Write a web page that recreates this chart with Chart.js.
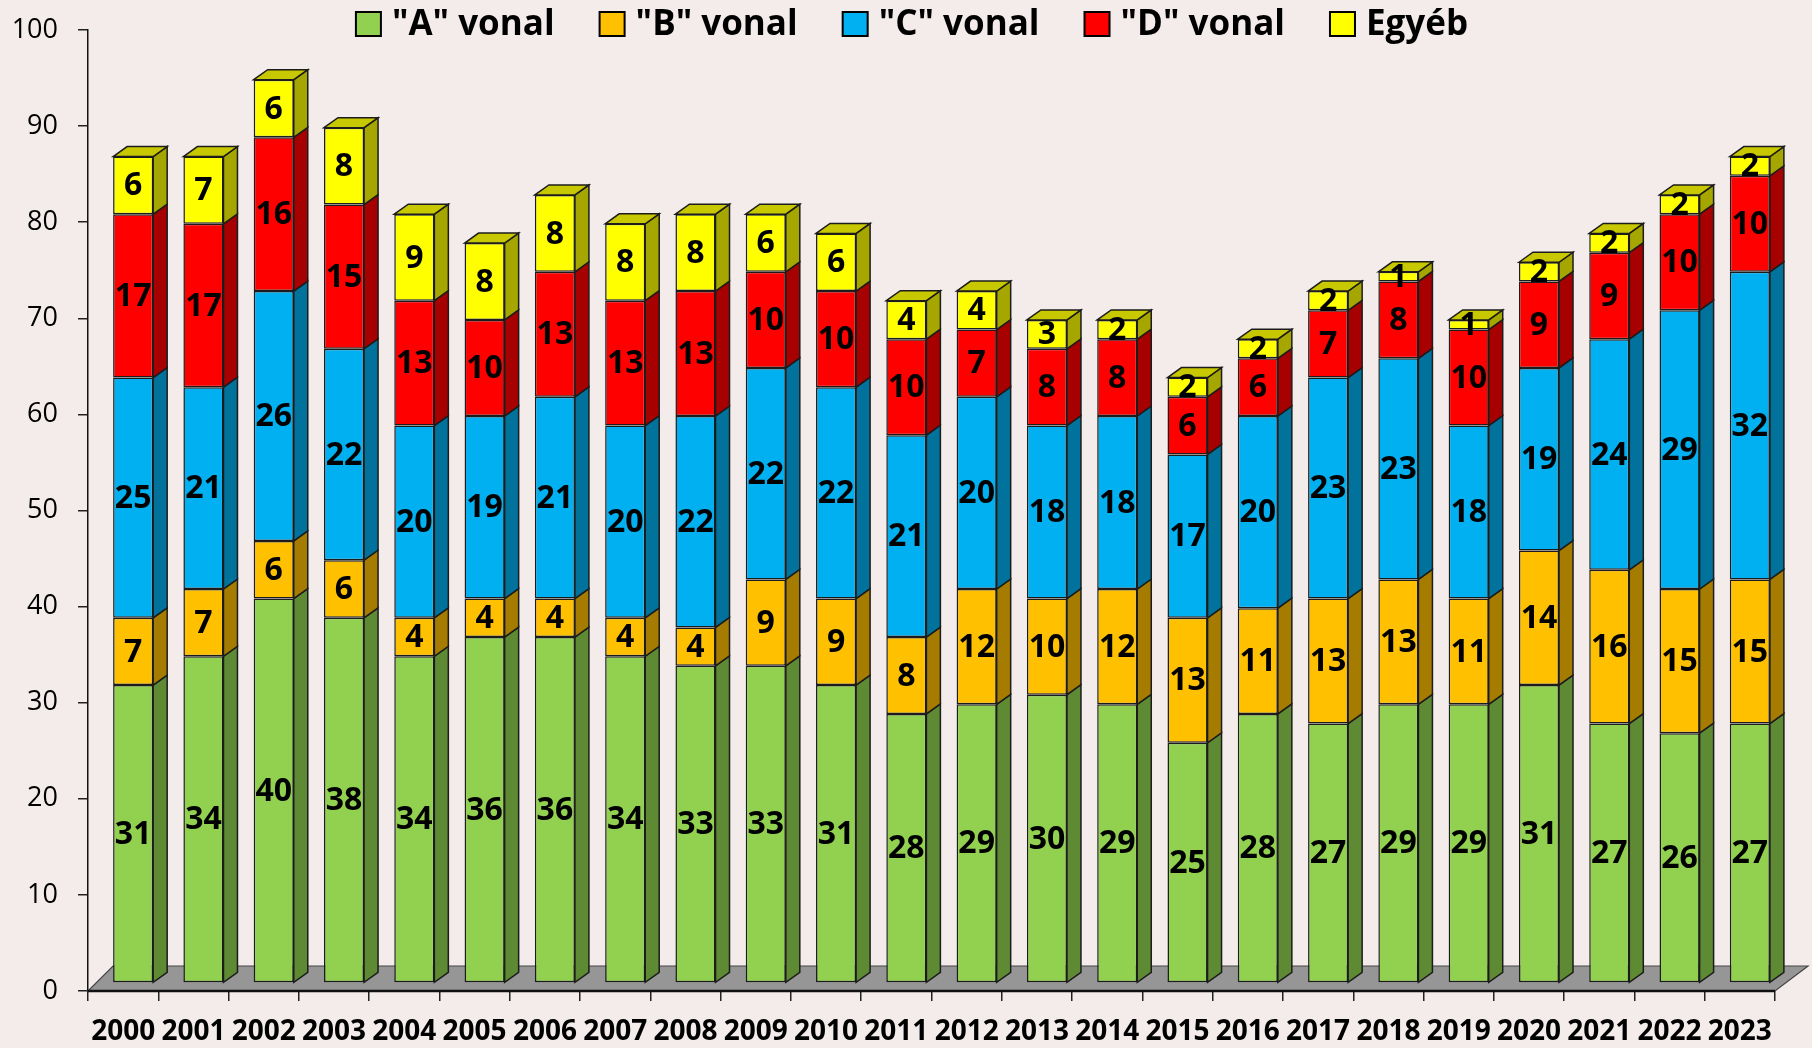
<!DOCTYPE html>
<html>
<head>
<meta charset="utf-8">
<script src="https://cdn.jsdelivr.net/npm/chart.js@4.4.1/dist/chart.umd.min.js"></script>
<style>
html, body { margin: 0; padding: 0; background: #F3ECEB; overflow: hidden; }
#wrap { width: 1812px; height: 1048px; position: relative; }
</style>
</head>
<body>
<div id="wrap"><canvas id="myChart"></canvas></div>
<script>
var years = ['2000', '2001', '2002', '2003', '2004', '2005', '2006', '2007', '2008', '2009', '2010', '2011',
             '2012', '2013', '2014', '2015', '2016', '2017', '2018', '2019', '2020', '2021', '2022', '2023'];
var vonalA = [31, 34, 40, 38, 34, 36, 36, 34, 33, 33, 31, 28, 29, 30, 29, 25, 28, 27, 29, 29, 31, 27, 26, 27];
var vonalB = [7, 7, 6, 6, 4, 4, 4, 4, 4, 9, 9, 8, 12, 10, 12, 13, 11, 13, 13, 11, 14, 16, 15, 15];
var vonalC = [25, 21, 26, 22, 20, 19, 21, 20, 22, 22, 22, 21, 20, 18, 18, 17, 20, 23, 23, 18, 19, 24, 29, 32];
var vonalD = [17, 17, 16, 15, 13, 10, 13, 13, 13, 10, 10, 10, 7, 8, 8, 6, 6, 7, 8, 10, 9, 9, 10, 10];
var egyeb = [6, 7, 6, 8, 9, 8, 8, 8, 8, 6, 6, 4, 4, 3, 2, 2, 2, 2, 1, 1, 2, 2, 2, 2];
var seriesNames = ['"A" vonal', '"B" vonal', '"C" vonal', '"D" vonal', 'Egyéb'];

var frontColors = ['#92D050', '#FFC000', '#00B0F0', '#FF0000', '#FFFF00'];
var sideColors = ['#5E8A33', '#A67C00', '#00729C', '#A60000', '#A6A600'];
var topColor = '#C8C800';

Chart.defaults.font.family = '"Open Sans", sans-serif';
Chart.defaults.color = '#000';

// fake 3D: front faces are drawn by chart.js, shifted back a bit, sides/tops added here
var bars3d = {
  id: 'bars3d',
  beforeDraw: function (chart) {
    var c = chart.ctx;
    c.save();
    c.fillStyle = '#F3ECEB';
    c.fillRect(0, 0, chart.width, chart.height);
    c.restore();
  },
  beforeDatasetsDraw: function (chart) {
    var a = chart.chartArea, c = chart.ctx;
    c.save();
    c.beginPath();
    c.moveTo(a.left, a.bottom);
    c.lineTo(a.left + 25, a.bottom - 25);
    c.lineTo(a.right + 33, a.bottom - 25);
    c.lineTo(a.right, a.bottom);
    c.closePath();
    c.fillStyle = '#969696';
    c.fill();
    c.strokeStyle = '#444';
    c.lineWidth = 1.2;
    c.stroke();
    c.beginPath();
    c.moveTo(a.left, a.bottom);
    c.lineTo(a.right, a.bottom);
    c.strokeStyle = '#111';
    c.lineWidth = 2.5;
    c.stroke();
    c.restore();
    c.save();
    c.translate(10, -8);
  },
  afterDatasetsDraw: function (chart) {
    var c = chart.ctx;
    var n = chart.data.datasets.length;
    function face(pts, color) {
      c.beginPath();
      c.moveTo(pts[0][0], pts[0][1]);
      for (var k = 1; k < pts.length; k++) c.lineTo(pts[k][0], pts[k][1]);
      c.closePath();
      c.fillStyle = color;
      c.fill();
      c.strokeStyle = '#1c1c1c';
      c.lineWidth = 1.5;
      c.stroke();
    }
    for (var d = 0; d < n; d++) {
      chart.getDatasetMeta(d).data.forEach(function (bar) {
        var p = bar.getProps(['x', 'y', 'base', 'width'], true);
        var left = p.x - p.width / 2, right = p.x + p.width / 2;
        var top = Math.min(p.y, p.base), bottom = Math.max(p.y, p.base);
        face([[right, top], [right + 14, top - 10], [right + 14, bottom - 10], [right, bottom]], sideColors[d]);
        if (d === n - 1) {
          face([[left, top], [left + 14, top - 10], [right + 14, top - 10], [right, top]], topColor);
        }
      });
    }
    c.font = 'bold 32px "Open Sans"';
    c.fillStyle = '#000';
    c.textAlign = 'center';
    c.textBaseline = 'middle';
    for (var j = 0; j < n; j++) {
      var vals = chart.data.datasets[j].data;
      chart.getDatasetMeta(j).data.forEach(function (bar, i) {
        var p = bar.getProps(['x', 'y', 'base'], true);
        c.fillText(String(vals[i]), p.x, (p.y + p.base) / 2 + 1);
      });
    }
    c.restore();
  },
  afterDraw: function (chart) {
    var c = chart.ctx;
    var sets = chart.data.datasets;
    c.save();
    c.font = 'bold 35px "Open Sans"';
    var box = 25, gapText = 11, gapItem = 45;
    var widths = sets.map(function (s) { return box + gapText + c.measureText(s.label).width; });
    var total = widths.reduce(function (s, w) { return s + w; }, 0) + gapItem * (sets.length - 1);
    var x = chart.width / 2 + 6 - total / 2;
    c.textBaseline = 'alphabetic';
    c.textAlign = 'left';
    sets.forEach(function (s, i) {
      c.fillStyle = s.backgroundColor;
      c.fillRect(x, 12, box, 24);
      c.strokeStyle = '#000';
      c.lineWidth = 2;
      c.strokeRect(x, 12, box, 24);
      c.fillStyle = '#000';
      c.fillText(s.label, x + box + gapText, 35);
      x += widths[i] + gapItem;
    });
    c.restore();
  }
};

var ctx = document.getElementById('myChart');
var seriesData = [vonalA, vonalB, vonalC, vonalD, egyeb];

var chart = new Chart(ctx, {
  type: 'bar',
  data: {
    labels: years,
    datasets: seriesData.map(function (vals, i) {
      return {
        label: seriesNames[i],
        data: vals,
        backgroundColor: frontColors[i],
        borderColor: '#1c1c1c',
        borderWidth: 1.5,
        borderSkipped: false,
        categoryPercentage: 1,
        barPercentage: 0.57,
        clip: false
      };
    })
  },
  options: {
    responsive: true,
    maintainAspectRatio: false,
    animation: false,
    layout: { padding: { top: 30, right: 37, bottom: 0, left: 0 } },
    plugins: {
      legend: { display: false },
      tooltip: { enabled: false }
    },
    scales: {
      x: {
        stacked: true,
        grid: { drawOnChartArea: false, drawTicks: true, tickLength: 10, color: '#222', lineWidth: 1.5, offset: true },
        border: { display: true, color: '#111', width: 2 },
        ticks: { font: { size: 28, weight: 'bold' }, color: '#000', padding: 14, maxRotation: 0, autoSkip: false },
        afterFit: function (s) { s.height = 57; s.paddingLeft = 0; s.paddingRight = 0; }
      },
      y: {
        stacked: true,
        min: 0,
        max: 100,
        grid: { drawOnChartArea: false, tickLength: 10, color: '#222', lineWidth: 1.5 },
        border: { color: '#111', width: 1.5 },
        ticks: { stepSize: 10, font: { size: 27 }, color: '#000', padding: 20 },
        afterFit: function (s) { s.width = 88; s.paddingTop = 0; s.paddingBottom = 0; }
      }
    }
  },
  plugins: [bars3d]
});
</script>
</body>
</html>
